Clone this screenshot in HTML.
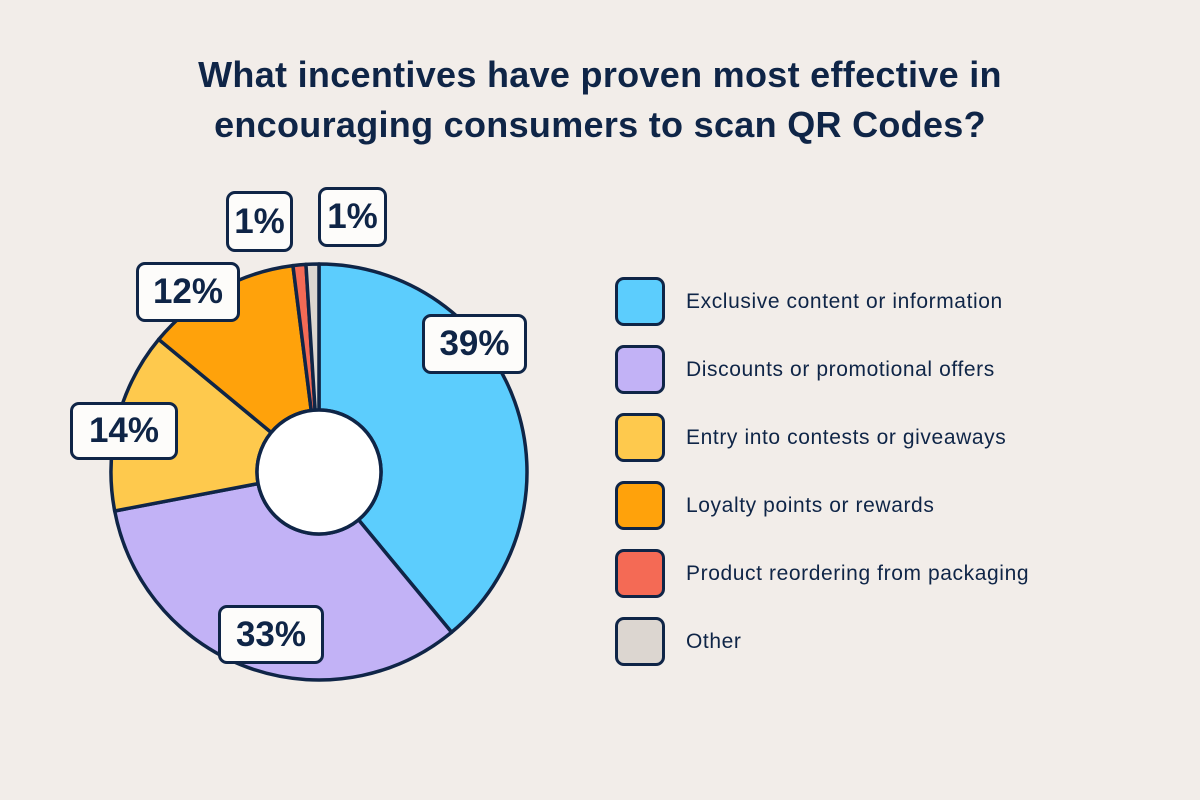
<!DOCTYPE html>
<html><head><meta charset="utf-8"><style>
body{margin:0;width:1200px;height:800px;background:#f2ede9;font-family:"Liberation Sans",sans-serif;color:#0f2547;position:relative;overflow:hidden}
h1{position:absolute;top:50px;left:0;width:1200px;text-align:center;margin:0;font-size:36px;line-height:50px;font-weight:bold;letter-spacing:0.3px}
.lb{position:absolute;background:#fdfcfa;border:3px solid #0f2547;border-radius:9px;font-weight:bold;font-size:35px;display:flex;align-items:center;justify-content:center;box-sizing:border-box}
.lg{position:absolute;left:615px;width:50px;height:49px;border:3px solid #0f2547;border-radius:9px;box-sizing:border-box}
.lt{position:absolute;left:686px;font-size:21px;line-height:24px;letter-spacing:0.6px}
</style></head><body>
<h1>What incentives have proven most effective in<br>encouraging consumers to scan QR Codes?</h1>
<svg id="s" width="1200" height="800" style="position:absolute;left:0;top:0"></svg>
<div class="lb" style="left:422px;top:314px;width:105px;height:60px">39%</div>
<div class="lb" style="left:218px;top:605px;width:106px;height:59px">33%</div>
<div class="lb" style="left:70px;top:402px;width:108px;height:58px">14%</div>
<div class="lb" style="left:136px;top:262px;width:104px;height:60px">12%</div>
<div class="lb" style="left:226px;top:191px;width:67px;height:61px">1%</div>
<div class="lb" style="left:318px;top:187px;width:69px;height:60px">1%</div>
<div class="lg" style="top:277px;background:#5ccdfd"></div><div class="lt" style="top:290px">Exclusive content or information</div>
<div class="lg" style="top:345px;background:#c2b2f6"></div><div class="lt" style="top:358px">Discounts or promotional offers</div>
<div class="lg" style="top:413px;background:#fec94d"></div><div class="lt" style="top:426px">Entry into contests or giveaways</div>
<div class="lg" style="top:481px;background:#ffa20b"></div><div class="lt" style="top:494px">Loyalty points or rewards</div>
<div class="lg" style="top:549px;background:#f46a55"></div><div class="lt" style="top:562px">Product reordering from packaging</div>
<div class="lg" style="top:617px;background:#dcd6d0"></div><div class="lt" style="top:630px">Other</div>
<script>
var cx=319,cy=472,R=208,r=62;
var d=[[39,"#5ccdfd"],[33,"#c2b2f6"],[14,"#fec94d"],[12,"#ffa20b"],[1,"#f46a55"],[1,"#dcd6d0"]];
var a=0,h="";
function p(rad,ang){var t=ang/100*2*Math.PI;return [cx+rad*Math.sin(t),cy-rad*Math.cos(t)];}
d.forEach(function(s){var b=a+s[0];var l=s[0]>50?1:0;
var p1=p(R,a),p2=p(R,b),p3=p(r,b),p4=p(r,a);
h+='<path d="M'+p1+' A'+R+' '+R+' 0 '+l+' 1 '+p2+' L'+p3+' A'+r+' '+r+' 0 '+l+' 0 '+p4+' Z" fill="'+s[1]+'" stroke="#0f2547" stroke-width="3.5" stroke-linejoin="round"/>';a=b;});
h+='<circle cx="'+cx+'" cy="'+cy+'" r="'+r+'" fill="#fff" stroke="#0f2547" stroke-width="3.5"/>';
document.getElementById("s").innerHTML=h;
</script>
</body></html>
